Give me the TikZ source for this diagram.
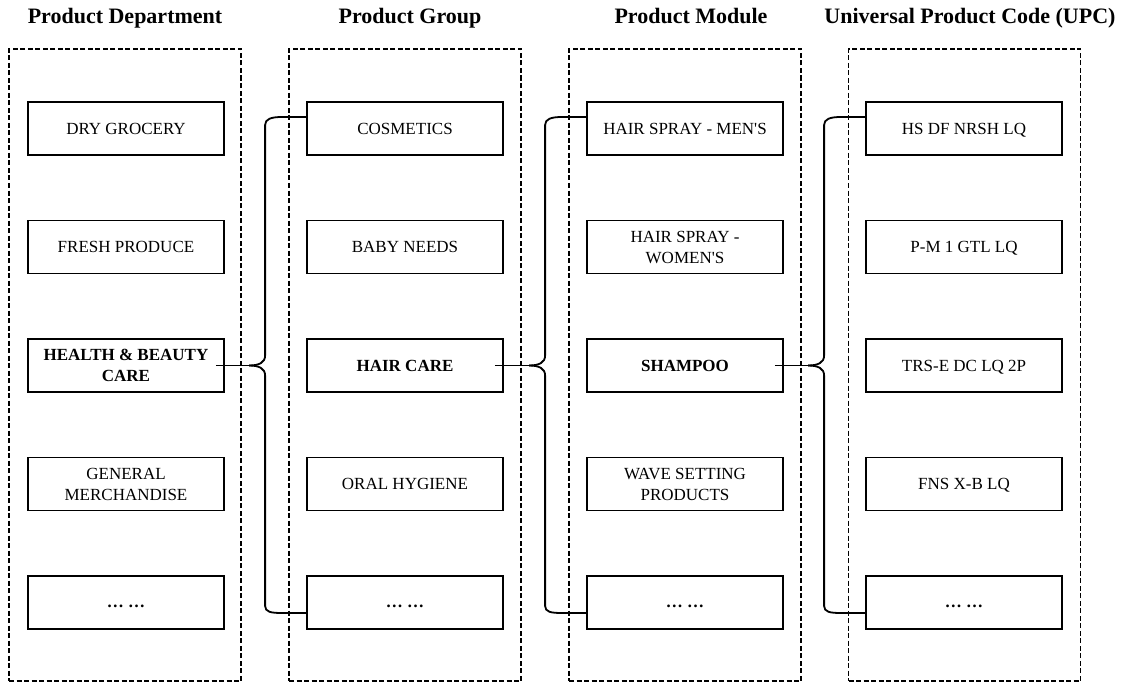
\documentclass[tikz,border=0pt]{standalone}
\usepackage{amsmath}
\usepackage{fontspec}
\setmainfont{Liberation Serif}
\usetikzlibrary{calc}
\newcommand\myapos{\textquotesingle}
\newcommand\mydots{\vphantom{A}\textbf{… …}}
\begin{document}
\begin{tikzpicture}[x=1pt,y=-1pt,
  colbox/.style={draw, line width=1.4pt, dash pattern=on 5pt off 2.5pt, minimum width=232pt, minimum height=632pt, inner sep=0pt},
  item/.style={draw, line width=1.8pt, minimum width=196pt, minimum height=53pt, inner sep=0pt, align=center, font=\fontsize{17}{21}\selectfont},
  hi/.style={item, font=\fontsize{17}{21}\selectfont\bfseries},
  head/.style={anchor=base, inner sep=0pt, font=\fontsize{22}{26}\selectfont\bfseries},
  link/.style={line width=1.8pt}]
\useasboundingbox (0,0) rectangle (1123,682);
% headers
\node[head] (h1) at (125,24) {Product Department};
\node[head] (h2) at (410,24) {Product Group};
\node[head] (h3) at (691,24) {Product Module};
\node[head] (h4) at (970,24) {Universal Product Code (UPC)};
% dashed columns
\node[colbox] (col1) at (125,365) {};
\node[colbox] (col2) at (405,365) {};
\node[colbox] (col3) at (685,365) {};
\node[colbox] (col4) at (964.5,365) {};
% column 1
\node[item] (c1r1) at (126,128.5) {DRY GROCERY};
\node[item] (c1r2) at (126,247) {FRESH PRODUCE};
\node[hi]   (c1r3) at (126,365.5) {HEALTH \& BEAUTY\\CARE};
\node[item] (c1r4) at (126,484) {GENERAL\\MERCHANDISE};
\node[item] (c1r5) at (126,602.5) {\mydots};
% column 2
\node[item] (c2r1) at (405,128.5) {COSMETICS};
\node[item] (c2r2) at (405,247) {BABY NEEDS};
\node[hi]   (c2r3) at (405,365.5) {HAIR CARE};
\node[item] (c2r4) at (405,484) {ORAL HYGIENE};
\node[item] (c2r5) at (405,602.5) {\mydots};
% column 3
\node[item] (c3r1) at (685,128.5) {HAIR SPRAY - MEN\myapos S};
\node[item] (c3r2) at (685,247) {HAIR SPRAY -\\WOMEN\myapos S};
\node[hi]   (c3r3) at (685,365.5) {SHAMPOO};
\node[item] (c3r4) at (685,484) {WAVE SETTING\\PRODUCTS};
\node[item] (c3r5) at (685,602.5) {\mydots};
% column 4
\node[item] (c4r1) at (964,128.5) {\smash[b]{HS DF NRSH LQ}};
\node[item] (c4r2) at (964,247) {\smash[b]{P-M 1 GTL LQ}};
\node[item] (c4r3) at (964,365.5) {\smash[b]{TRS-E DC LQ 2P}};
\node[item] (c4r4) at (964,484) {\smash[b]{FNS X-B LQ}};
\node[item] (c4r5) at (964,602.5) {\mydots};
% braces
\foreach \s/\t/\b in {c1r3/c2r1/c2r5, c2r3/c3r1/c3r5, c3r3/c4r1/c4r5}{
  \coordinate (tip) at ($(\t.west |- \s.east)+(-57,0)$);
  \draw[link] ($(\s.east)+(-9,0)$) -- (tip);
  \draw[link] (tip) .. controls +(10,0) and +(0,7) .. ($(\t.west |- \s.east)+(-41,-10)$)
     -- ($(\t.west)+(-41,-3.5)$) .. controls +(0,-6) and +(-11,0) .. ($(\t.west)+(-24,-11.5)$)
     -- ($(\t.west)+(0,-11.5)$);
  \draw[link] (tip) .. controls +(10,0) and +(0,-7) .. ($(\b.west |- \s.east)+(-41,10)$)
     -- ($(\b.west)+(-41,3.5)$) .. controls +(0,6) and +(-11,0) .. ($(\b.west)+(-24,10.5)$)
     -- ($(\b.west)+(0,10.5)$);
}
\end{tikzpicture}
\end{document}
